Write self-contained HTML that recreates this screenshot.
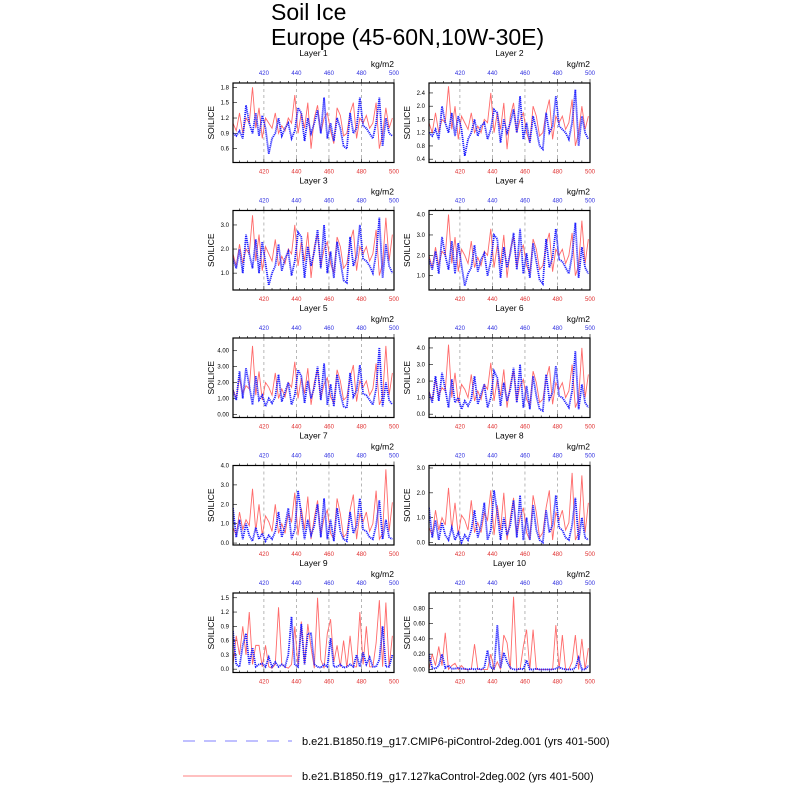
<!DOCTYPE html>
<html><head><meta charset="utf-8"><style>
body{margin:0;background:#fff;}
svg{display:block;font-family:"Liberation Sans",sans-serif;}
</style></head><body>
<svg id="chart" width="800" height="800" viewBox="0 0 800 800" xmlns="http://www.w3.org/2000/svg">
<text x="271" y="20" font-size="23">Soil Ice</text>
<text x="271" y="45" font-size="23">Europe (45-60N,10W-30E)</text>
<g id="panels"></g>
<g>
<line x1="183" y1="741" x2="292" y2="741" stroke="#8080ff" stroke-width="1" stroke-dasharray="12,9"/>
<text x="302" y="745" font-size="11">b.e21.B1850.f19_g17.CMIP6-piControl-2deg.001 (yrs 401-500)</text>
<line x1="183" y1="776" x2="292" y2="776" stroke="#ff8080" stroke-width="1"/>
<text x="302" y="780" font-size="11">b.e21.B1850.f19_g17.127kaControl-2deg.002 (yrs 401-500)</text>
</g>
</svg>
<script>
const years=[];for(let y=401;y<=499;y+=2)years.push(y);
const xTicks=[420,440,460,480,500];
const yMins=[0.33,0.3,0.3,0.3,-0.2,-0.2,-0.1,-0.1,-0.07,-0.04];
const yMaxs=[1.885,2.7,3.6,4.2,4.8,4.6,4.0,3.1,1.6,1.0];
const yTickLabels=[
["0.6","0.9","1.2","1.5","1.8"],
["0.4","0.8","1.2","1.6","2.0","2.4"],
["1.0","2.0","3.0"],
["1.0","2.0","3.0","4.0"],
["0.00","1.00","2.00","3.00","4.00"],
["0.0","1.0","2.0","3.0","4.0"],
["0.0","1.0","2.0","3.0","4.0"],
["0.0","1.0","2.0","3.0"],
["0.0","0.3","0.6","0.9","1.2","1.5"],
["0.00","0.20","0.40","0.60","0.80"]];
const blue1=[0.9,0.85,0.95,0.8,1.45,1.1,0.9,1.3,0.85,1.25,1.0,0.5,0.8,0.9,1.2,0.85,1.0,1.1,0.8,0.95,1.4,1.3,0.75,1.2,0.9,1.1,1.35,0.9,1.6,0.8,1.1,0.75,1.2,1.0,0.65,0.6,1.3,0.9,1.0,1.6,1.05,1.0,0.9,0.8,1.1,1.6,0.65,1.2,0.9,0.85];
const red1=[1.1,0.95,1.3,0.9,1.2,1.1,1.8,1.0,1.4,0.8,1.2,1.1,1.0,1.3,0.9,1.05,0.95,1.2,1.1,1.65,0.9,1.3,1.0,1.5,0.6,1.2,1.45,0.9,1.2,1.3,0.95,0.7,1.4,1.25,0.85,0.9,1.3,1.5,0.8,1.2,1.1,1.25,1.0,1.1,1.5,0.6,0.9,1.4,1.0,1.2];
const blue2=[1.2,1.1,1.3,1.0,2.0,1.5,1.2,1.8,1.1,1.7,1.3,0.5,1.0,1.2,1.6,1.1,1.4,1.5,1.0,1.3,1.9,1.8,0.9,1.6,1.2,1.5,1.9,1.2,2.3,1.0,1.5,0.9,1.7,1.3,0.8,0.7,1.8,1.2,1.4,2.3,1.4,1.3,1.2,1.0,1.5,2.5,0.8,1.7,1.2,1.0];
const red2=[1.5,1.2,1.8,1.2,1.6,1.5,2.6,1.3,2.0,1.0,1.7,1.5,1.3,1.8,1.2,1.4,1.2,1.6,1.5,2.4,1.2,1.8,1.3,2.1,0.7,1.7,2.1,1.2,1.6,1.8,1.2,0.9,2.0,1.7,1.1,1.2,1.8,2.2,1.0,1.7,1.5,1.7,1.3,1.5,2.2,0.8,1.2,2.0,1.3,1.7];
const blue3=[1.6,1.2,2.0,1.0,2.6,1.8,1.2,2.4,1.0,2.3,1.4,0.5,1.0,1.3,2.2,1.1,1.6,1.9,0.9,1.5,2.7,2.5,0.8,2.1,1.3,1.9,2.8,1.2,3.0,1.0,1.9,0.8,2.3,1.5,0.7,0.6,2.5,1.3,1.7,3.0,1.6,1.5,1.3,1.0,1.8,3.3,0.8,2.2,1.3,1.0];
const red3=[1.8,1.3,2.2,1.4,2.0,1.8,3.4,1.5,2.6,1.1,2.1,1.8,1.5,2.4,1.3,1.7,1.4,2.0,1.8,3.0,1.3,2.3,1.5,2.7,0.8,2.1,2.6,1.3,2.0,2.3,1.4,1.0,2.5,2.1,1.2,1.4,2.3,2.8,1.1,2.1,1.8,2.1,1.5,1.8,2.8,0.9,1.4,3.3,1.5,2.6];
const blue4=[1.8,1.3,2.2,1.1,2.9,2.0,1.3,2.7,1.1,2.6,1.5,0.5,1.1,1.4,2.5,1.2,1.8,2.1,1.0,1.7,3.0,2.8,0.9,2.4,1.4,2.1,3.1,1.3,3.3,1.1,2.1,0.9,2.6,1.7,0.8,0.6,2.8,1.4,1.9,3.3,1.8,1.7,1.4,1.1,2.0,3.6,0.9,2.4,1.4,1.1];
const red4=[2.0,1.4,2.4,1.5,2.2,2.0,4.0,1.6,2.9,1.2,2.3,2.0,1.6,2.7,1.4,1.9,1.5,2.2,2.0,3.3,1.4,2.5,1.6,3.0,0.9,2.3,2.9,1.4,2.2,2.5,1.5,1.1,2.8,2.3,1.3,1.5,2.5,3.1,1.2,2.3,2.0,2.3,1.6,2.0,3.1,1.0,1.5,3.7,1.6,2.8];
const blue5=[1.5,0.9,2.7,1.0,2.9,1.8,0.6,2.4,0.9,1.2,0.5,1.0,0.7,1.1,2.5,0.8,1.4,2.0,0.6,1.2,2.8,2.4,0.7,2.1,1.0,1.7,3.0,0.9,3.2,0.6,1.9,0.5,2.5,1.3,0.5,0.4,2.6,1.1,1.5,3.1,1.3,1.2,0.9,0.6,1.6,4.2,0.5,2.0,0.9,0.6];
const red5=[1.6,1.0,2.3,1.3,1.8,1.6,4.3,1.2,2.7,0.9,2.0,1.7,1.2,2.6,1.0,1.6,1.1,2.0,1.7,3.3,1.0,2.3,1.3,2.9,0.6,2.0,2.8,1.0,1.9,2.3,1.1,0.7,2.8,2.1,0.9,1.1,2.3,3.1,0.8,2.1,1.7,2.1,1.2,1.6,3.2,0.6,1.1,4.3,1.2,2.6];
const blue6=[1.3,0.7,2.3,0.8,2.5,1.5,0.4,2.1,0.7,1.0,0.3,0.8,0.5,0.9,2.3,0.6,1.2,1.8,0.4,1.0,2.6,2.2,0.5,1.9,0.8,1.5,2.8,0.7,3.0,0.4,1.7,0.3,2.3,1.1,0.3,0.2,2.4,0.9,1.3,2.9,1.1,1.0,0.7,0.4,1.4,3.8,0.3,1.8,0.7,0.4];
const red6=[1.4,0.8,2.1,1.1,1.6,1.4,4.2,1.0,2.5,0.7,1.8,1.5,1.0,2.4,0.8,1.4,0.9,1.8,1.5,3.1,0.8,2.1,1.1,2.7,0.4,1.8,2.6,0.8,1.7,2.1,0.9,0.5,2.6,1.9,0.7,0.9,2.1,2.9,0.6,1.9,1.5,1.9,1.0,1.4,3.0,0.4,0.9,4.0,1.0,2.4];
const blue7=[1.8,0.3,1.2,0.2,1.0,0.4,0.1,0.8,0.2,0.5,0.1,0.4,0.2,0.6,1.6,0.3,0.9,1.8,0.2,0.7,2.7,1.5,0.2,1.2,0.4,0.9,2.0,0.3,2.3,0.2,1.2,0.1,1.8,0.6,0.2,0.1,1.6,0.5,0.9,2.3,0.7,0.6,0.3,0.2,0.9,2.2,0.2,1.2,0.3,0.2];
const red7=[0.8,0.4,1.6,0.7,1.2,0.9,2.8,0.6,2.0,0.4,1.4,1.1,0.6,2.0,0.5,1.0,0.5,1.5,1.1,2.6,0.4,1.8,0.7,2.4,0.2,1.3,2.2,0.4,1.3,1.7,0.5,0.2,2.3,1.5,0.3,0.5,1.7,2.5,0.2,1.5,1.1,1.6,0.6,1.0,2.7,0.2,0.5,3.8,0.6,2.1];
const blue8=[1.4,0.2,0.9,0.1,0.8,0.3,0.1,0.6,0.1,0.4,0.0,0.3,0.1,0.5,1.3,0.2,0.7,1.6,0.1,0.5,2.1,1.2,0.1,1.0,0.3,0.7,1.7,0.2,1.9,0.1,1.0,0.1,1.5,0.5,0.1,0.0,1.3,0.4,0.7,1.9,0.6,0.5,0.2,0.1,0.7,1.8,0.1,1.0,0.2,0.1];
const red8=[0.6,0.3,1.3,0.5,1.0,0.7,2.2,0.5,1.6,0.3,1.1,0.9,0.5,1.7,0.4,0.8,0.4,1.2,0.9,2.1,0.3,1.5,0.5,2.0,0.1,1.0,1.8,0.3,1.0,1.4,0.4,0.1,1.9,1.2,0.2,0.4,1.4,2.1,0.1,1.2,0.9,1.3,0.5,0.8,2.8,0.1,0.4,2.7,0.4,1.6];
const blue9=[0.8,0.1,0.05,0.5,0.75,0.1,0.45,0.05,0.1,0.12,0.05,0.25,0.05,0.15,0.05,0.1,0.05,0.3,1.1,0.1,0.05,0.95,0.1,0.75,0.75,0.1,0.05,0.03,0.1,0.05,0.65,0.05,0.05,0.1,0.03,0.05,0.1,0.05,0.3,0.05,0.35,0.1,0.25,0.05,0.05,0.2,0.9,0.05,0.05,0.3];
const red9=[0.1,0.7,0.3,0.9,0.3,1.2,0.1,0.5,0.5,0.05,0.5,0.05,0.02,0.1,1.3,0.1,0.05,0.02,0.1,0.9,0.05,1.0,0.1,0.95,0.45,0.02,1.5,0.2,0.02,0.75,1.05,0.15,0.5,0.05,0.6,0.03,0.7,0.05,0.05,1.2,0.1,0.9,0.05,0.05,0.55,1.45,0.05,1.4,0.05,0.7];
const blue10=[0.2,0.02,0.01,0.05,0.2,0.02,0.05,0.01,0.01,0.02,0.01,0.01,0.0,0.01,0.0,0.01,0.0,0.02,0.25,0.02,0.01,0.58,0.02,0.22,0.1,0.02,0.0,0.0,0.01,0.0,0.12,0.0,0.0,0.01,0.0,0.0,0.0,0.0,0.0,0.01,0.03,0.01,0.0,0.0,0.0,0.02,0.15,0.0,0.0,0.05];
const red10=[0.0,0.2,0.05,0.3,0.05,0.48,0.0,0.05,0.08,0.0,0.05,0.0,0.0,0.0,0.33,0.0,0.0,0.0,0.0,0.2,0.0,0.1,0.0,0.45,0.35,0.0,0.95,0.0,0.0,0.3,0.52,0.0,0.52,0.0,0.0,0.0,0.0,0.0,0.0,0.58,0.0,0.45,0.0,0.0,0.1,0.45,0.0,0.4,0.0,0.28];
const blues=[blue1,blue2,blue3,blue4,blue5,blue6,blue7,blue8,blue9,blue10];
const reds=[red1,red2,red3,red4,red5,red6,red7,red8,red9,red10];

const NS="http://www.w3.org/2000/svg";
const root=document.getElementById('panels');
function mk(tag,attrs,parent){const e=document.createElementNS(NS,tag);for(const k in attrs)e.setAttribute(k,attrs[k]);parent.appendChild(e);return e;}
for(let i=0;i<10;i++){
  const col=i%2,row=Math.floor(i/2);
  const L=col?429:233,R=col?590:394,T=83+row*127.5,B=T+79.5;
  const g=mk('g',{},root);
  
  
  const xs=v=>L+(v-401)/99*(R-L);
  const ys=v=>B-(v-yMins[i])/(yMaxs[i]-yMins[i])*(B-T);
  const t=mk('text',{x:(L+R)/2,y:T-27,'font-size':8.5,'text-anchor':'middle'},g);t.textContent='Layer '+(i+1);
  
  
  const u=mk('text',{x:R,y:T-16,'font-size':8.5,'text-anchor':'end'},g);u.textContent='kg/m2';
  
  
  const yl=mk('text',{x:0,y:0,'font-size':8.5,'text-anchor':'middle',transform:`translate(${L-19},${(T+B)/2}) rotate(-90)`},g);yl.textContent='SOILICE';
  
  
  xTicks.forEach(v=>{
    if(v<500){const gl=mk('line',{x1:xs(v),x2:xs(v),y1:T,y2:B,stroke:'#999','stroke-width':0.7,'stroke-dasharray':'3,3'},g);
    
    }
    const tb=mk('text',{x:xs(v),y:B+11,'font-size':6,fill:'#e03030','text-anchor':'middle'},g);tb.textContent=v;
    
    
    const tt=mk('text',{x:xs(v),y:T-8,'font-size':6,fill:'#3030e0','text-anchor':'middle'},g);tt.textContent=v;
    
    
  });
  for(let v=405;v<=500;v+=5){const mj=v%20===0;
    mk('line',{x1:xs(v),x2:xs(v),y1:B,y2:B-(mj?4:2),stroke:'#000','stroke-width':0.6},g);
    mk('line',{x1:xs(v),x2:xs(v),y1:T,y2:T-(mj?4:2),stroke:'#000','stroke-width':0.6},g);}
  yTickLabels[i].forEach(s=>{const v=parseFloat(s);const y=ys(v);
    mk('line',{x1:L,x2:L+4,y1:y,y2:y,stroke:'#000','stroke-width':0.6},g);
    const tl=mk('text',{x:L-4,y:y+2,'font-size':6,'text-anchor':'end'},g);tl.textContent=s;
    
    
  });
  const cp='clip'+i;const cl=mk('clipPath',{id:cp},g);mk('rect',{x:L,y:T,width:R-L,height:B-T},cl);
  const rp=mk('polyline',{points:reds[i].map((v,k)=>xs(years[k])+','+ys(v)).join(' '),fill:'none',stroke:'#ff5050','stroke-width':0.9,'stroke-opacity':0.85,'clip-path':`url(#${cp})`},g);
  
  
  const bp=mk('polyline',{points:blues[i].map((v,k)=>xs(years[k])+','+ys(v)).join(' '),fill:'none',stroke:'#2020ff','stroke-width':1.8,'stroke-dasharray':'1.2,0.8','clip-path':`url(#${cp})`},g);
  
  
  const fr=mk('rect',{x:L,y:T,width:R-L,height:B-T,fill:'none',stroke:'#000','stroke-width':1.2},g);
  
  
}
</script>
</body></html>
